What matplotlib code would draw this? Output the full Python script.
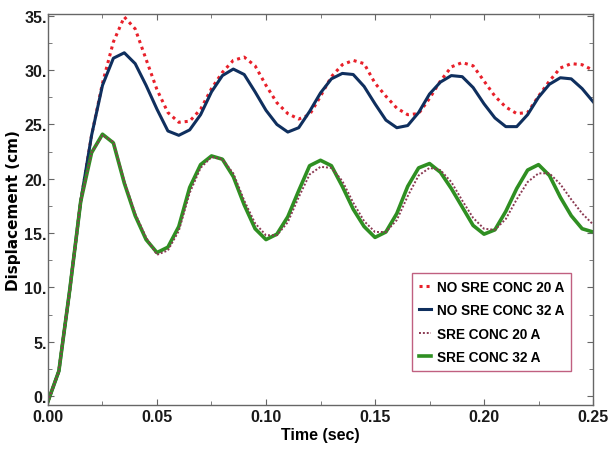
import numpy as np
import matplotlib
matplotlib.use("Agg")
import matplotlib.pyplot as plt
from matplotlib import font_manager
from matplotlib.ticker import MultipleLocator, FuncFormatter

# time axis (sec), step 0.005
time = np.arange(51) * 0.005

no_sre_20 = [-0.5, 2.3, 9.8, 17.9, 24.0, 28.8, 32.6, 34.9, 33.8, 31.0,
             28.2, 26.1, 25.2, 25.3, 26.4, 28.3, 29.8, 30.9, 31.2, 30.4,
             28.6, 27.0, 26.0, 25.5, 25.9, 27.6, 29.4, 30.5, 30.9, 30.6,
             28.8, 27.6, 26.5, 25.9, 26.0, 27.4, 29.0, 30.3, 30.7, 30.4,
             29.0, 27.6, 26.6, 26.0, 26.1, 27.6, 29.0, 30.2, 30.6, 30.5,
             30.0]
no_sre_32 = [-0.5, 2.3, 9.8, 17.9, 24.0, 28.6, 31.1, 31.6, 30.6, 28.6,
             26.4, 24.4, 24.0, 24.5, 25.9, 28.0, 29.5, 30.1, 29.6, 28.0,
             26.3, 25.0, 24.3, 24.7, 26.2, 27.9, 29.2, 29.7, 29.6, 28.5,
             26.9, 25.4, 24.7, 24.9, 26.1, 27.8, 28.9, 29.5, 29.4, 28.4,
             26.9, 25.6, 24.8, 24.8, 25.9, 27.5, 28.7, 29.3, 29.2, 28.3,
             27.1]
sre_20 = [-0.5, 2.3, 9.8, 17.9, 22.4, 24.0, 23.4, 19.8, 16.8, 14.6,
          13.0, 13.4, 15.2, 18.7, 21.0, 22.0, 21.8, 20.5, 18.0, 15.9,
          14.8, 14.8, 16.0, 18.3, 20.4, 21.1, 21.0, 19.8, 17.8, 16.1,
          15.1, 15.1, 16.2, 18.4, 20.3, 21.0, 20.8, 19.7, 18.0, 16.4,
          15.4, 15.3, 16.3, 18.1, 19.7, 20.5, 20.5, 19.5, 18.1, 16.8,
          15.8]
sre_32 = [-0.5, 2.3, 9.8, 17.9, 22.4, 24.1, 23.3, 19.6, 16.6, 14.4,
          13.2, 13.7, 15.6, 19.2, 21.3, 22.1, 21.8, 20.2, 17.6, 15.4,
          14.4, 14.9, 16.5, 18.9, 21.2, 21.7, 21.2, 19.3, 17.2, 15.6,
          14.6, 15.1, 16.8, 19.3, 21.0, 21.4, 20.6, 19.1, 17.4, 15.7,
          14.9, 15.3, 17.0, 19.1, 20.8, 21.3, 20.3, 18.3, 16.6, 15.4,
          15.1]

names = [f.name for f in font_manager.fontManager.ttflist]
narrow = "Liberation Sans Narrow" if "Liberation Sans Narrow" in names else "Liberation Sans"

fig = plt.figure(figsize=(6.12, 4.52), dpi=100)
ax = fig.add_axes([0.0784, 0.1018, 0.8906, 0.8650])

ax.plot(time, no_sre_20, color="#e8202a", lw=2.2, ls=(0, (1, 1.3)), label="NO SRE CONC 20 A")
ax.plot(time, no_sre_32, color="#0f2f5e", lw=2.2, label="NO SRE CONC 32 A")
ax.plot(time, sre_32, color="#2f8f22", lw=2.6, label="SRE CONC 32 A")
ax.plot(time, sre_20, color="#8a3a52", lw=1.4, ls=(0, (1, 1)), label="SRE CONC 20 A")

ax.set_xlim(0, 0.25)
ax.set_ylim(-0.83, 35.17)
ax.xaxis.set_major_locator(MultipleLocator(0.05))
ax.xaxis.set_minor_locator(MultipleLocator(0.025))
ax.yaxis.set_major_locator(MultipleLocator(5))
ax.yaxis.set_minor_locator(MultipleLocator(2.5))
ax.xaxis.set_major_formatter(FuncFormatter(lambda v, p: f"{v:.2f}"))
ax.yaxis.set_major_formatter(FuncFormatter(lambda v, p: f"{int(round(v))}."))
ax.tick_params(which="both", direction="in", top=True, right=True, color="#666666")
ax.tick_params(which="major", length=4)
ax.tick_params(which="minor", length=3)
ax.tick_params(axis="x", pad=3)
ax.tick_params(axis="y", pad=1)
for lab in ax.get_xticklabels() + ax.get_yticklabels():
    lab.set_fontfamily(narrow)
    lab.set_fontweight("bold")
    lab.set_fontsize(11.5)
    lab.set_color("#1a1a1a")
for s in ax.spines.values():
    s.set_color("#666666")
    s.set_linewidth(1.0)

ax.set_xlabel("Time (sec)", fontfamily=narrow, fontsize=11.5, fontweight="bold", labelpad=2)
ax.set_ylabel("Displacement (cm)", fontfamily="DejaVu Sans", fontsize=11, fontweight="bold", labelpad=2)

h, l = ax.get_legend_handles_labels()
order = [0, 1, 3, 2]
leg = ax.legend([h[i] for i in order], [l[i] for i in order], loc="lower right",
                bbox_to_anchor=(0.96, 0.087), handlelength=0.9, handletextpad=0.45,
                labelspacing=0.7, borderpad=0.5, borderaxespad=0, fancybox=False,
                framealpha=1, prop={"family": narrow, "weight": "bold", "size": 9.8})
leg.get_frame().set_edgecolor("#c06080")
leg.get_frame().set_linewidth(1.0)

fig.savefig("out.png", dpi=100)
